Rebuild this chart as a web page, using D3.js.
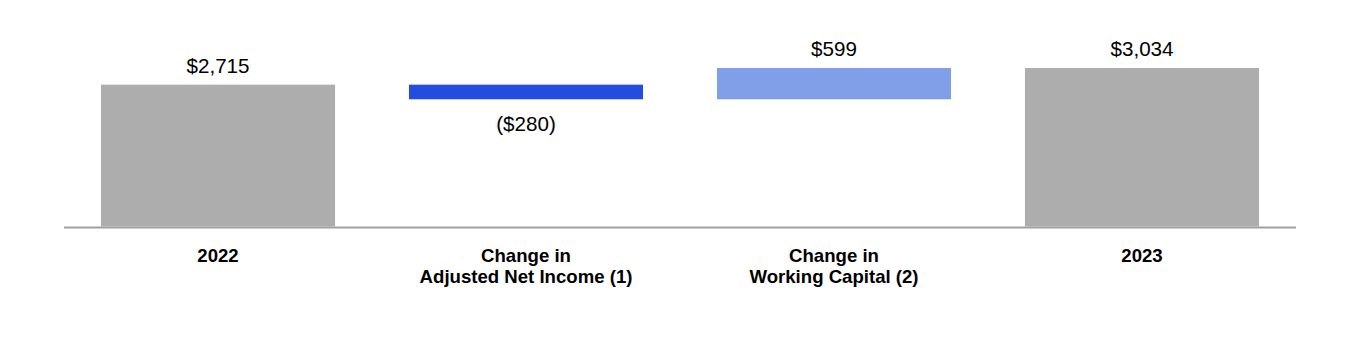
<!DOCTYPE html>
<html>
<head>
<meta charset="utf-8">
<script src="https://cdn.jsdelivr.net/npm/d3@7"></script>
<style>
  body { margin: 0; background: #fff; }
  svg text { font-family: "Liberation Sans", Arial, sans-serif; fill: #000; }
</style>
</head>
<body>
<svg id="chart" width="1360" height="350"></svg>
<script>
// waterfall data
let categories = ["2022", "Change in\nAdjusted Net Income (1)", "Change in\nWorking Capital (2)", "2023"];
let values = [2715, -280, 599, 3034];
let kinds = ["total", "delta", "delta", "total"];
let valueLabels = ["$2,715", "($280)", "$599", "$3,034"];
let barColors = ["#adadad", "#224ddf", "#819ee8", "#adadad"];

let svg = d3.select("#chart");

let x = d3.scaleBand()
  .domain(categories)
  .range([64, 1296])
  .paddingInner(0.24)
  .paddingOuter(0.12);

let y = d3.scaleLinear()
  .domain([0, 3034])
  .range([226.5, 68]);

// running start/end for each step
let running = 0;
let bars = categories.map(function (cat, i) {
  let start, end;
  if (kinds[i] == "total") {
    start = 0;
    end = values[i];
    running = values[i];
  } else {
    start = running;
    end = running + values[i];
    running = end;
  }
  return { cat: cat, start: start, end: end, value: values[i], label: valueLabels[i], color: barColors[i] };
});

svg.selectAll("rect.bar")
  .data(bars)
  .enter().append("rect")
  .attr("class", "bar")
  .attr("x", d => x(d.cat))
  .attr("width", x.bandwidth())
  .attr("y", d => y(Math.max(d.start, d.end)))
  .attr("height", d => Math.abs(y(d.start) - y(d.end)))
  .attr("fill", d => d.color);

// baseline
svg.append("line")
  .attr("x1", 64).attr("x2", 1296)
  .attr("y1", 227.5).attr("y2", 227.5)
  .attr("stroke", "#a0a0a0")
  .attr("stroke-width", 2);

// value labels
svg.selectAll("text.val")
  .data(bars)
  .enter().append("text")
  .attr("class", "val")
  .attr("x", d => x(d.cat) + x.bandwidth() / 2)
  .attr("y", d => d.value < 0 ? y(Math.min(d.start, d.end)) + 31.5 : y(Math.max(d.start, d.end)) - 12)
  .attr("text-anchor", "middle")
  .style("font-size", "20.6px")
  .text(d => d.label);

// category labels
let catText = svg.selectAll("text.cat")
  .data(categories)
  .enter().append("text")
  .attr("class", "cat")
  .attr("text-anchor", "middle")
  .style("font-size", "18.6px")
  .style("font-weight", "bold")
  .attr("transform", d => "translate(" + (x(d) + x.bandwidth() / 2) + ",0)");

catText.each(function (d) {
  let lines = d.split("\n");
  let t = d3.select(this);
  lines.forEach(function (ln, j) {
    t.append("tspan")
      .attr("x", 0)
      .attr("y", 261.7 + j * 21.6)
      .text(ln);
  });
});
</script>
</body>
</html>
